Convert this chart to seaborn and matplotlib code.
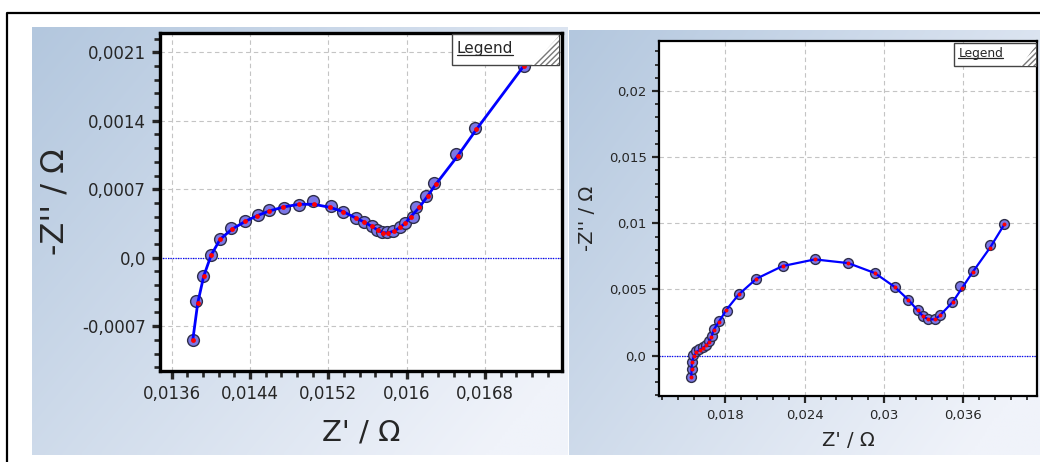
import numpy as np
import pandas as pd
import matplotlib.pyplot as plt
import seaborn as sns
from matplotlib.patches import Rectangle, Polygon
from matplotlib.ticker import FixedLocator, AutoMinorLocator

# left panel: zoomed view (Z' / -Z'' in Ohm)
left_fit_x = [0.013815, 0.013866, 0.013927, 0.014002, 0.014094, 0.014213, 0.014352, 0.014472,
              0.014594, 0.014740, 0.014898, 0.015051, 0.015217, 0.015353, 0.015480, 0.015565,
              0.015643, 0.015708, 0.015762, 0.015813, 0.015874, 0.015933, 0.015987, 0.016042,
              0.016130, 0.016216, 0.016300, 0.016520, 0.016713, 0.017195]
left_fit_y = [-0.000841, -0.000460, -0.000187, 0.000025, 0.000188, 0.000290, 0.000372, 0.000429,
              0.000477, 0.000518, 0.000546, 0.000546, 0.000515, 0.000470, 0.000406, 0.000365,
              0.000321, 0.000280, 0.000255, 0.000255, 0.000273, 0.000311, 0.000355, 0.000419,
              0.000515, 0.000634, 0.000753, 0.001039, 0.001312, 0.001959]
left_meas_x = [0.013815, 0.013845, 0.013922, 0.014000, 0.014094, 0.014205, 0.014350, 0.014480,
               0.014594, 0.014745, 0.014898, 0.015041, 0.015228, 0.015345, 0.015480, 0.015565,
               0.015643, 0.015700, 0.015750, 0.015800, 0.015865, 0.015933, 0.015987, 0.016060,
               0.016093, 0.016201, 0.016283, 0.016509, 0.016694, 0.017195]
left_meas_y = [-0.000841, -0.000440, -0.000187, 0.000030, 0.000195, 0.000300, 0.000372, 0.000436,
               0.000487, 0.000505, 0.000539, 0.000583, 0.000528, 0.000470, 0.000406, 0.000360,
               0.000321, 0.000285, 0.000260, 0.000262, 0.000273, 0.000311, 0.000350, 0.000415,
               0.000521, 0.000634, 0.000760, 0.001060, 0.001329, 0.001959]
left_xticks = [0.0136, 0.0144, 0.0152, 0.0160, 0.0168]
left_xticklabels = ['0,0136', '0,0144', '0,0152', '0,016', '0,0168']
left_yticks = [-0.0007, 0.0, 0.0007, 0.0014, 0.0021]
left_yticklabels = ['-0,0007', '0,0', '0,0007', '0,0014', '0,0021']

# right panel: full spectrum
right_fit_x = [0.015418, 0.015432, 0.015470, 0.015598, 0.015800, 0.016053, 0.016303, 0.016561,
               0.016735, 0.016939, 0.017114, 0.017492, 0.018076, 0.019008, 0.020349, 0.022318,
               0.024765, 0.027288, 0.029311, 0.030826, 0.031834, 0.032546, 0.032970, 0.033349,
               0.033856, 0.034235, 0.035197, 0.035924, 0.036712, 0.038024, 0.039106]
right_fit_y = [-0.001616, -0.000982, -0.000483, -0.000053, 0.000272, 0.000453, 0.000604, 0.000778,
               0.001027, 0.001405, 0.001964, 0.002538, 0.003474, 0.004630, 0.005816, 0.006768,
               0.007274, 0.006994, 0.006239, 0.005181, 0.004230, 0.003421, 0.002968, 0.002742,
               0.002742, 0.003044, 0.004048, 0.005136, 0.006314, 0.008157, 0.009917]
right_meas_x = [0.015418, 0.015432, 0.015460, 0.015560, 0.015760, 0.016020, 0.016290, 0.016561,
                0.016760, 0.016960, 0.017150, 0.017520, 0.018150, 0.019008, 0.020349, 0.022318,
                0.024765, 0.027288, 0.029311, 0.030826, 0.031834, 0.032546, 0.032950, 0.033349,
                0.033856, 0.034260, 0.035150, 0.035751, 0.036712, 0.038024, 0.039106]
right_meas_y = [-0.001616, -0.000982, -0.000450, 0.000020, 0.000330, 0.000500, 0.000650, 0.000800,
                0.001100, 0.001500, 0.002000, 0.002600, 0.003350, 0.004630, 0.005816, 0.006768,
                0.007274, 0.006994, 0.006239, 0.005181, 0.004230, 0.003421, 0.002968, 0.002742,
                0.002742, 0.003100, 0.004048, 0.005234, 0.006390, 0.008384, 0.009917]
right_xticks = [0.018, 0.024, 0.030, 0.036]
right_xticklabels = ['0,018', '0,024', '0,03', '0,036']
right_yticks = [0.0, 0.005, 0.010, 0.015, 0.020]
right_yticklabels = ['0,0', '0,005', '0,01', '0,015', '0,02']

sns.set_style('ticks')
plt.rcParams['font.family'] = ['DejaVu Sans']
TXT = '#262626'

W, H = 1040, 462
fig = plt.figure(figsize=(W / 100, H / 100), dpi=100)
fig.patch.set_facecolor('white')

# background with two gradient panels and the outer frame
bg = fig.add_axes([0, 0, 1, 1], zorder=-10)
bg.set_xlim(0, W)
bg.set_ylim(H, 0)
bg.axis('off')
c0 = np.array([179, 199, 222]) / 255
c1 = np.array([240, 243, 250]) / 255


def gradient(x0, x1, y0, y1):
    gx, gy = np.meshgrid(np.linspace(0, 1, 200), np.linspace(0, 1, 120))
    t = np.clip((gx * 0.6 + gy * 0.4) * 1.1, 0, 1)[..., None]
    img = c0 * (1 - t) + c1 * t
    bg.imshow(img, extent=(x0, x1, y1, y0), aspect='auto', interpolation='bilinear')


gradient(32, 568, 27, 455)
gradient(569, 1040, 30, 455)
bg.plot([7, 7, W], [H, 13, 13], color='black', lw=1.6)
bg.set_xlim(0, W)
bg.set_ylim(H, 0)


def legend_box(ax, x0, y0, x1, y1, fs, tri_w):
    ax.add_patch(Rectangle((x0, y0), x1 - x0, y1 - y0, transform=ax.transAxes,
                           facecolor='white', edgecolor='#444444', lw=1.0, zorder=10,
                           clip_on=False))
    tri = Polygon([(x1 - tri_w, y0), (x1, y0), (x1, y1 - 0.005)], closed=True,
                  transform=ax.transAxes, facecolor='white', edgecolor='#777777',
                  hatch='//////', lw=0, zorder=11, clip_on=False)
    ax.add_patch(tri)
    t = ax.text(x0 + 0.012, (y0 + y1) / 2 + 0.004, 'Legend', transform=ax.transAxes,
                fontsize=fs, ha='left', va='center', color=TXT, zorder=12)
    fig.canvas.draw()
    bb = t.get_window_extent().transformed(ax.transAxes.inverted())
    ax.plot([bb.x0, bb.x1], [bb.y0 + 0.004, bb.y0 + 0.004], transform=ax.transAxes,
            color=TXT, lw=0.9, zorder=12, clip_on=False)


def draw_panel(ax, fx, fy, mx, my, xt, xtl, yt, ytl, xlim, ylim, big):
    meas = pd.DataFrame({'x': mx, 'y': my})
    fit = pd.DataFrame({'x': fx, 'y': fy})
    ax.set_facecolor('white')
    ms = 72 if big else 50
    sns.scatterplot(data=meas, x='x', y='y', ax=ax, s=ms, color='#7b76e6',
                    edgecolor='#2e2e4a', linewidth=1.0, zorder=3, legend=False)
    sns.lineplot(data=fit, x='x', y='y', ax=ax, sort=False, estimator=None,
                 color='#0000ff', lw=2.0 if big else 1.6, zorder=4, legend=False)
    sns.scatterplot(data=fit, x='x', y='y', ax=ax, s=12 if big else 8, color='#ff0000',
                    linewidth=0, zorder=5, legend=False)
    ax.axhline(0, color='#0000ff', lw=0.9, ls=(0, (1, 1)), zorder=2)
    ax.set_xlim(*xlim)
    ax.set_ylim(*ylim)
    ax.xaxis.set_major_locator(FixedLocator(xt))
    ax.yaxis.set_major_locator(FixedLocator(yt))
    ax.set_xticklabels(xtl)
    ax.set_yticklabels(ytl)
    ax.xaxis.set_minor_locator(AutoMinorLocator(5))
    ax.yaxis.set_minor_locator(AutoMinorLocator(5))
    ax.grid(True, which='major', color='#c4c4c4', ls=(0, (4, 3)), lw=0.8)
    ax.set_axisbelow(True)
    sw = 2.4 if big else 1.6
    for s in ax.spines.values():
        s.set_linewidth(sw)
        s.set_color('black')
    ax.tick_params(which='major', direction='out', length=6 if big else 5, width=sw,
                   labelsize=12 if big else 9.5, labelcolor=TXT, pad=4)
    ax.tick_params(which='minor', direction='out', length=4 if big else 3, width=sw * 0.8)


ax1 = fig.add_axes([160 / W, 1 - 371 / H, 402 / W, 338 / H])
draw_panel(ax1, left_fit_x, left_fit_y, left_meas_x, left_meas_y,
           left_xticks, left_xticklabels, left_yticks, left_yticklabels,
           (0.013480, 0.017587), (-0.001158, 0.002297), True)
ax1.set_xlabel("Z' / Ω", fontsize=21, color=TXT)
ax1.set_ylabel("-Z'' / Ω", fontsize=23, color=TXT)
ax1.xaxis.set_label_coords(0.5, -0.183)
ax1.yaxis.set_label_coords(-0.262, 0.5)
ax1.xaxis.label.set_va('center')
ax1.yaxis.label.set_va('center')
legend_box(ax1, 0.726, 0.905, 0.993, 0.996, 11, 0.068)

ax2 = fig.add_axes([659 / W, 1 - 396 / H, 378 / W, 355 / H])
draw_panel(ax2, right_fit_x, right_fit_y, right_meas_x, right_meas_y,
           right_xticks, right_xticklabels, right_yticks, right_yticklabels,
           (0.01297, 0.04158), (-0.00305, 0.02378), False)
ax2.set_xlabel("Z' / Ω", fontsize=14, color=TXT)
ax2.set_ylabel("-Z'' / Ω", fontsize=14, color=TXT)
ax2.xaxis.set_label_coords(0.502, -0.125)
ax2.yaxis.set_label_coords(-0.189, 0.5)
ax2.xaxis.label.set_va('center')
ax2.yaxis.label.set_va('center')
legend_box(ax2, 0.780, 0.929, 0.998, 0.994, 8.8, 0.04)

fig.savefig('out.png', dpi=100)
